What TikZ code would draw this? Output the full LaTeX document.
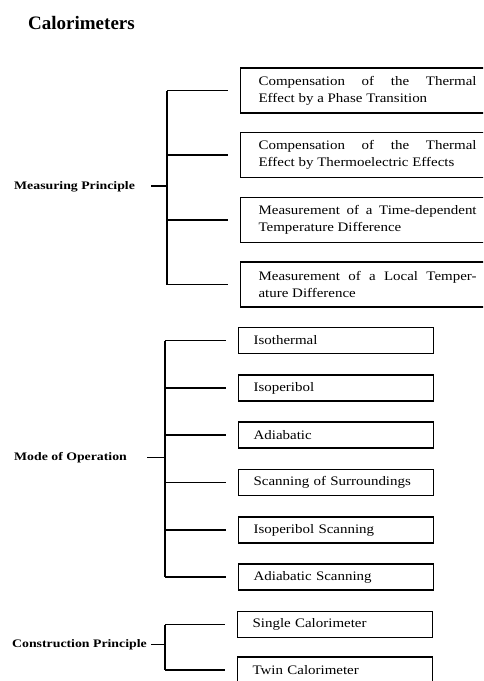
\documentclass[tikz,border=0pt]{standalone}
\usepackage{fontspec}
\setmainfont{Liberation Serif}
\newfontfamily\boxfont[FakeStretch=1.15]{Liberation Serif}
\newfontfamily\headfont[FakeStretch=1.2]{Liberation Serif}
\usepackage{tikz}
\usetikzlibrary{positioning,calc}

\begin{document}
\begin{tikzpicture}[
      x=1pt, y=-1pt,
      every node/.style={inner sep=0pt},
      line/.style={line width=1.2pt},
      title node/.style={anchor=west, font=\bfseries\fontsize{19}{22}\selectfont},
      group node/.style={anchor=west, font=\headfont\bfseries\fontsize{11.5}{14}\selectfont},
      wide box/.style={
        draw, line width=1.2pt, anchor=west,
        text width=218pt, inner xsep=18pt,
        minimum height=45pt, align=justify,
        font=\boxfont\fontsize{13}{17}\selectfont
      },
      small box/.style={
        draw, line width=1.2pt, anchor=west,
        text width=165pt, inner xsep=15pt,
        minimum height=26pt, align=left,
        font=\boxfont\fontsize{13}{17}\selectfont
      },
  ]
  \useasboundingbox (0,0) rectangle (483,681);
  \clip (0,0) rectangle (483,681);

  \node[title node] (title) at (28,22.5) {Calorimeters};

  % 1. Measuring Principle
  \node[group node] (mp) at (14,187) {Measuring Principle};
  \node[wide box] (mp1) at (240,90.5) {Compensation of the Thermal\linebreak Effect by a Phase Transition};
  \node[wide box] (mp2) at (240,155) {Compensation of the Thermal\linebreak Effect by Thermoelectric Effects};
  \node[wide box] (mp3) at (240,220) {Measurement of a Time-dependent\linebreak Temperature Difference};
  \node[wide box] (mp4) at (240,284.5) {Measurement of a Local Temper-\linebreak ature Difference};
  \coordinate (mpbus) at (167,186);
  \draw[line] ([xshift=-16pt]mpbus) -- (mpbus);
  \draw[line] (mp1.west -| mpbus) -- (mp4.west -| mpbus);
  \foreach \b in {mp1,mp2,mp3,mp4}
    \draw[line] (\b.west -| mpbus) -- ([xshift=-12pt]\b.west);

  % 2. Mode of Operation
  \node[group node] (mo) at (14,458) {Mode of Operation};
  \node[small box] (mo1) at (238,340.5) {Isothermal};
  \node[small box] (mo2) at (238,388) {Isoperibol};
  \node[small box] (mo3) at (238,435) {Adiabatic};
  \node[small box] (mo4) at (238,482.5) {Scanning of Surroundings};
  \node[small box] (mo5) at (238,530) {Isoperibol Scanning};
  \node[small box] (mo6) at (238,577) {Adiabatic Scanning};
  \coordinate (mobus) at (165,457.5);
  \draw[line] ([xshift=-18pt]mobus) -- (mobus);
  \draw[line] (mo1.west -| mobus) -- (mo6.west -| mobus);
  \foreach \b in {mo1,mo2,mo3,mo4,mo5,mo6}
    \draw[line] (\b.west -| mobus) -- ([xshift=-12pt]\b.west);

  % 3. Construction Principle
  \node[group node] (cp) at (12,645) {Construction Principle};
  \node[small box] (cp1) at (237,624.5) {Single Calorimeter};
  \node[small box] (cp2) at (237,670) {Twin Calorimeter};
  \coordinate (cpbus) at (165,644.5);
  \draw[line] ([xshift=-14pt]cpbus) -- (cpbus);
  \draw[line] (cp1.west -| cpbus) -- (cp2.west -| cpbus);
  \foreach \b in {cp1,cp2}
    \draw[line] (\b.west -| cpbus) -- ([xshift=-12pt]\b.west);
\end{tikzpicture}
\end{document}
